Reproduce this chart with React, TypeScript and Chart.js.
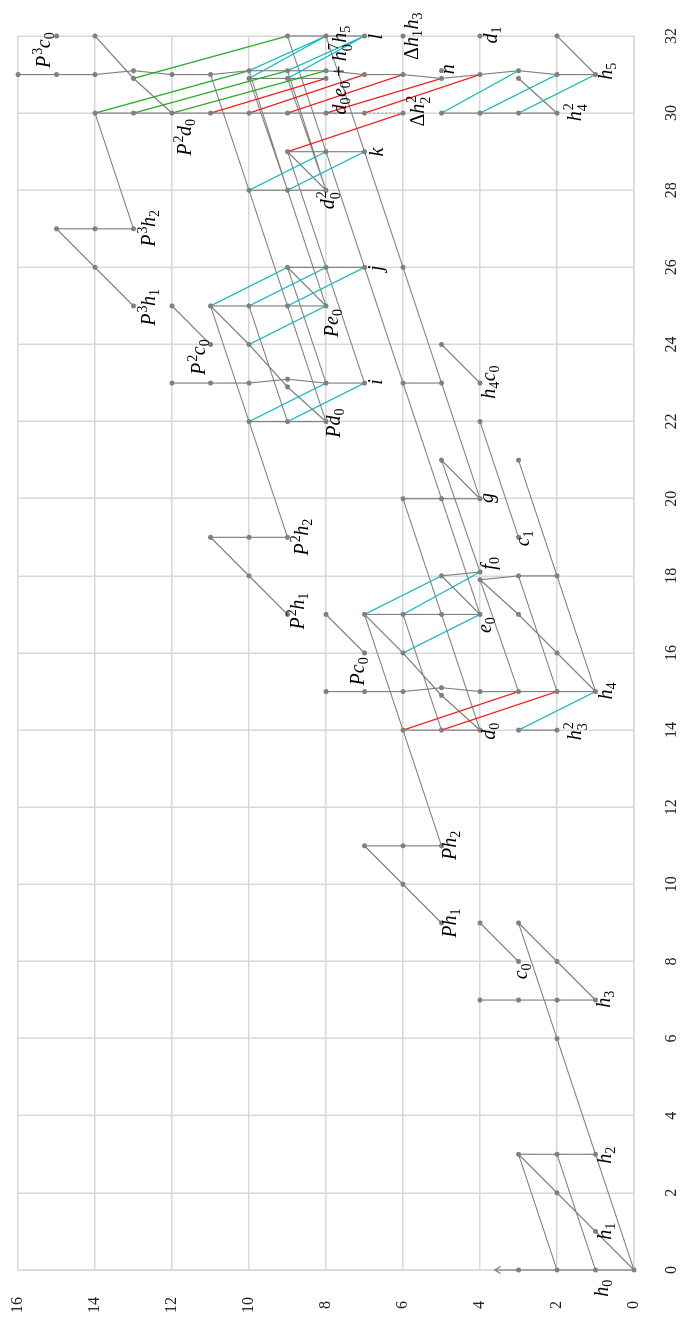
import React, { useEffect, useRef } from "react";
import { Chart, registerables } from "chart.js";

Chart.register(...registerables);

// ---- axis ranges ----
const STEM_RANGE = [0, 32];
const FILT_RANGE = [0, 16];
const TICK_STEP = 2;

// ---- classes: "stem,filtration" with optional +/- for side-by-side classes ----
const CLASSES: string[] = [
  "0,0", "0,1", "0,2", "0,3", "1,1", "2,2", "3,1", "3,2", "3,3", "6,2",
  "7,1", "7,2", "7,3", "7,4", "8,2", "8,3", "9,3", "9,4", "9,5", "10,6", "11,5", "11,6", "11,7",
  "14,2", "14,3", "14,4", "14,5", "14,6",
  "15,1", "15,2", "15,3", "15,4", "15,5+", "15,5-", "15,6", "15,7", "15,8",
  "16,2", "16,6", "16,7",
  "17,3", "17,4", "17,5", "17,6", "17,7", "17,8", "17,9",
  "18,2", "18,3", "18,4+", "18,4-", "18,5", "18,10",
  "19,3", "19,9", "19,10", "19,11",
  "20,4", "20,5", "20,6", "21,3", "21,5",
  "22,4", "22,8", "22,9", "22,10",
  "23,4", "23,5", "23,6", "23,7", "23,8", "23,9+", "23,9-", "23,10", "23,11", "23,12",
  "24,5", "24,10", "24,11",
  "25,8", "25,9", "25,10", "25,11", "25,12", "25,13",
  "26,6", "26,7", "26,8", "26,9", "26,14",
  "27,13", "27,14", "27,15",
  "28,8", "28,9", "28,10",
  "29,7", "29,8", "29,9",
  "30,2", "30,3", "30,4", "30,5", "30,6", "30,7", "30,8", "30,9", "30,10", "30,11", "30,12", "30,13", "30,14",
  "31,1", "31,2", "31,3+", "31,3-", "31,4", "31,5+", "31,5-", "31,6", "31,7", "31,8+", "31,8-",
  "31,9+", "31,9-", "31,10+", "31,10-", "31,11", "31,12", "31,13+", "31,13-", "31,14", "31,15", "31,16",
  "32,2", "32,4", "32,6", "32,7", "32,8", "32,9", "32,14", "32,15",
];

// ---- h0 multiplications ----
const H0_CHAINS: string[][] = [
  ["0,0", "0,1", "0,2", "0,3"],
  ["3,1", "3,2", "3,3"],
  ["7,1", "7,2", "7,3", "7,4"],
  ["11,5", "11,6", "11,7"],
  ["14,2", "14,3"],
  ["14,4", "14,5", "14,6"],
  ["15,1", "15,2", "15,3", "15,4", "15,5+", "15,6", "15,7", "15,8"],
  ["17,4", "17,5", "17,6", "17,7"],
  ["18,2", "18,3", "18,4-"],
  ["18,4+", "18,5"],
  ["19,9", "19,10", "19,11"],
  ["20,4", "20,5", "20,6"],
  ["22,8", "22,9", "22,10"],
  ["23,5", "23,6"],
  ["23,7", "23,8", "23,9+", "23,10", "23,11", "23,12"],
  ["25,8", "25,9", "25,10", "25,11"],
  ["26,7", "26,8", "26,9"],
  ["27,13", "27,14", "27,15"],
  ["28,8", "28,9", "28,10"],
  ["29,7", "29,8", "29,9"],
  ["30,2", "30,3", "30,4", "30,5"],
  ["30,7", "30,8", "30,9", "30,10", "30,11", "30,12", "30,13", "30,14"],
  ["31,1", "31,2", "31,3+", "31,4", "31,5-", "31,6", "31,7", "31,8+", "31,9+", "31,10+",
    "31,11", "31,12", "31,13+", "31,14", "31,15", "31,16"],
  ["31,8-", "31,9-", "31,10-"],
  ["32,7", "32,8", "32,9"],
];

// ---- h1 multiplications ----
const H1_CHAINS: string[][] = [
  ["0,0", "1,1", "2,2", "3,3"],
  ["7,1", "8,2", "9,3"],
  ["8,3", "9,4"],
  ["9,5", "10,6", "11,7"],
  ["14,4", "15,5-", "16,6", "17,7"],
  ["15,1", "16,2", "17,3", "18,4-"],
  ["16,7", "17,8"],
  ["17,4", "18,5"],
  ["17,9", "18,10", "19,11"],
  ["20,4", "21,5"],
  ["22,8", "23,9-", "24,10", "25,11"],
  ["23,4", "24,5"],
  ["24,11", "25,12"],
  ["25,8", "26,9"],
  ["25,13", "26,14", "27,15"],
  ["28,8", "29,9"],
  ["30,2", "31,3-"],
  ["30,12", "31,13-", "32,14"],
  ["31,1", "32,2"],
];

// ---- h2 multiplications ----
const H2_CHAINS: string[][] = [
  ["0,0", "3,1", "6,2", "9,3"],
  ["0,1", "3,2"],
  ["0,2", "3,3"],
  ["11,5", "14,6", "17,7"],
  ["14,4", "17,5", "20,6"],
  ["14,5", "17,6"],
  ["15,1", "18,2", "21,3"],
  ["15,2", "18,3"],
  ["15,3", "18,4-"],
  ["19,3", "22,4"],
  ["17,4", "20,5", "23,6", "26,7", "29,8", "32,9"],
  ["18,4+", "21,5"],
  ["20,4", "23,5", "26,6", "29,7", "32,8"],
  ["23,7", "26,8", "29,9"],
  ["23,8", "26,9"],
  ["19,9", "22,10", "25,11"],
  ["22,8", "25,9", "28,10", "31,11"],
  ["22,9", "25,10"],
  ["25,8", "28,9", "31,10+"],
  ["28,9", "31,10-"],
  ["28,8", "31,9+"],
  ["28,8", "31,9-"],
  ["27,13", "30,14"],
];

// ---- differentials ----
const D2: string[][] = [
  ["15,1", "14,3"], ["17,4", "16,6"], ["18,4+", "17,6"], ["18,5", "17,7"],
  ["23,7", "22,9"], ["23,8", "22,10"],
  ["25,8", "24,10"], ["26,7", "25,9"], ["26,8", "25,10"], ["26,9", "25,11"],
  ["29,7", "28,9"], ["29,8", "28,10"],
  ["31,1", "30,3"], ["31,2", "30,4"], ["31,3+", "30,5"],
  ["32,7", "31,9+"], ["32,7", "31,9-"], ["32,8", "31,10+"], ["32,8", "31,10-"],
];
const D3: string[][] = [
  ["15,2", "14,5"], ["15,3", "14,6"], ["30,6", "29,9"],
  ["31,4", "30,7"], ["31,5-", "30,8"], ["31,6", "30,9"], ["31,7", "30,10"], ["31,8-", "30,11"],
];
const D4: string[][] = [
  ["31,8+", "30,12"], ["31,9+", "30,13"], ["31,10+", "30,14"], ["32,9", "31,13-"],
];
const DOTTED: string[][] = [["30,6", "30,7"]];

// ---- infinite tower arrow: start class and filtration of the arrow tip ----
const TOWER_ARROW_FROM = "0,3";
const TOWER_ARROW_TIP = 3.62;

// ---- class names: [tex, stem, filtration] of label centre ----
const LABELS: [string, number, number][] = [
  ["h_0", -0.47, 0.81], ["h_1", 1.01, 0.73], ["h_2", 2.98, 0.73], ["h_3", 7.03, 0.75], ["c_0", 7.75, 2.86],
  ["Ph_1", 9.0, 4.75], ["Ph_2", 11.02, 4.75], ["h_3^2", 13.98, 1.53], ["d_0", 13.98, 3.74], ["h_4", 15.02, 0.7],
  ["e_0", 16.73, 3.79], ["f_0", 18.33, 3.74], ["Pc_0", 15.53, 7.14], ["P^2h_1", 17.09, 8.75], ["P^2h_2", 19.01, 8.65],
  ["c_1", 18.98, 2.81], ["g", 20.02, 3.74], ["Pd_0", 21.97, 7.77], ["h_4c_0", 23.03, 3.74], ["i", 23.03, 6.73],
  ["P^2c_0", 23.68, 11.32], ["Pe_0", 24.56, 7.82], ["j", 25.98, 6.65], ["P^3h_1", 24.97, 12.62], ["P^3h_2", 27.02, 12.62],
  ["d_0^2", 27.75, 7.95], ["k", 28.99, 6.7], ["P^2d_0", 29.38, 11.69], ["P^3c_0", 31.64, 15.35], ["l", 31.98, 6.73],
  ["\\Delta h_1h_3", 32.0, 5.74], ["d_1", 32.03, 3.69], ["n", 31.14, 4.81], ["h_5", 31.09, 0.7], ["h_4^2", 30.03, 1.53],
  ["\\Delta h_2^2", 30.06, 5.61], ["d_0e_0+h_0^7h_5", 31.12, 7.64],
];

// ---- style ----
const W = 1321;
const H = 683;
const SHIFT = 0.1;
const GRAY = "#808080";
const CYAN = "#14b8c4";
const RED = "#f51c1c";
const GREEN = "#26ad26";
const GRID = "#d8d8d8";
const SERIF = '"Liberation Serif", "DejaVu Serif", serif';
const LABEL_SIZE = 20;
const SCRIPT_SIZE = 14;

type P = { x: number; y: number };
const pt = (k: string): P => {
  const m = /^(\d+),(\d+)([+-]?)$/.exec(k)!;
  const s = m[3] === "+" ? SHIFT : m[3] === "-" ? -SHIFT : 0;
  return { x: +m[1] + s, y: +m[2] };
};
const GAP: P = { x: NaN, y: NaN };
function chainsToData(chains: string[][]): P[] {
  const out: P[] = [];
  for (const c of chains) {
    for (const k of c) out.push(pt(k));
    out.push(GAP);
  }
  return out;
}

type Tok = { text: string; kind: "it" | "rm" | "op" | "sub" | "sup" };
function parseTex(s: string): Tok[] {
  const out: Tok[] = [];
  let i = 0;
  while (i < s.length) {
    const c = s[i];
    if (s.startsWith("\\Delta", i)) { out.push({ text: "\u0394", kind: "rm" }); i += 6; continue; }
    if (c === " ") { i++; continue; }
    if (c === "_" || c === "^") { out.push({ text: s[i + 1], kind: c === "_" ? "sub" : "sup" }); i += 2; continue; }
    if (c === "+") { out.push({ text: "+", kind: "op" }); i++; continue; }
    if (/[0-9]/.test(c)) { out.push({ text: c, kind: "rm" }); i++; continue; }
    out.push({ text: c, kind: "it" });
    i++;
  }
  return out;
}
function fontFor(kind: Tok["kind"]): string {
  if (kind === "it") return `italic ${LABEL_SIZE}px ${SERIF}`;
  if (kind === "rm" || kind === "op") return `${LABEL_SIZE}px ${SERIF}`;
  return `${SCRIPT_SIZE}px ${SERIF}`;
}
function drawTex(ctx: CanvasRenderingContext2D, tex: string, cx: number, cy: number) {
  const toks = parseTex(tex);
  const placed: { text: string; font: string; x: number; dy: number; asc: number; desc: number }[] = [];
  let x = 0;
  const place = (t: Tok, px: number, dy: number) => {
    ctx.font = fontFor(t.kind);
    const m = ctx.measureText(t.text);
    placed.push({ text: t.text, font: ctx.font, x: px, dy, asc: m.actualBoundingBoxAscent, desc: m.actualBoundingBoxDescent });
    return m.width;
  };
  for (let i = 0; i < toks.length; i++) {
    const t = toks[i];
    if (t.kind === "sub" || t.kind === "sup") {
      const nxt = toks[i + 1];
      const stacked = !!nxt && (nxt.kind === "sub" || nxt.kind === "sup") && nxt.kind !== t.kind;
      const dyOf = (k: string) => (k === "sub" ? (stacked ? 0.3 : 0.22) * LABEL_SIZE : -0.4 * LABEL_SIZE);
      let w = place(t, x + (t.kind === "sup" ? 1 : 0), dyOf(t.kind));
      if (stacked) {
        const w2 = place(nxt, x + (nxt.kind === "sup" ? 1 : 0), dyOf(nxt.kind));
        w = Math.max(w, w2) + 1;
        i++;
      }
      x += w + 0.5;
      continue;
    }
    if (t.kind === "op") {
      x += 0.2 * LABEL_SIZE;
      const w = place(t, x, 0);
      x += w + 0.2 * LABEL_SIZE;
      continue;
    }
    x += place(t, x, 0);
  }
  let top = Infinity;
  let bot = -Infinity;
  for (const p of placed) {
    top = Math.min(top, p.dy - p.asc);
    bot = Math.max(bot, p.dy + p.desc);
  }
  const x0 = cx - x / 2;
  const base = cy - (top + bot) / 2;
  for (const p of placed) {
    ctx.font = p.font;
    ctx.fillText(p.text, x0 + p.x, base + p.dy);
  }
}

const labelPlugin = {
  id: "classLabels",
  afterDatasetsDraw(chart: any) {
    const { ctx, scales } = chart;
    ctx.save();
    ctx.fillStyle = "#000";
    ctx.textAlign = "left";
    ctx.textBaseline = "alphabetic";
    for (const [tex, s, f] of LABELS) {
      drawTex(ctx, tex, scales.x.getPixelForValue(s), scales.y.getPixelForValue(f));
    }
    ctx.restore();
  },
};

const arrowPlugin = {
  id: "towerArrow",
  afterDatasetsDraw(chart: any) {
    const idx = chart.data.datasets.findIndex((d: any) => d.label === "tower");
    if (idx < 0) return;
    const pts = chart.getDatasetMeta(idx).data;
    if (pts.length < 2) return;
    const a = pts[0];
    const b = pts[1];
    const dx = b.x - a.x;
    const dy = b.y - a.y;
    const len = Math.hypot(dx, dy) || 1;
    const ux = dx / len;
    const uy = dy / len;
    const back = 6;
    const half = 3.5;
    const ctx = chart.ctx;
    ctx.save();
    ctx.strokeStyle = GRAY;
    ctx.lineWidth = 1.1;
    ctx.beginPath();
    ctx.moveTo(b.x - ux * back - uy * half, b.y - uy * back + ux * half);
    ctx.lineTo(b.x, b.y);
    ctx.lineTo(b.x - ux * back + uy * half, b.y - uy * back - ux * half);
    ctx.stroke();
    ctx.restore();
  },
};

function lineSet(label: string, data: P[], color: string, width: number, dash: number[] = []) {
  return {
    label,
    data,
    showLine: true,
    spanGaps: false,
    borderColor: color,
    borderWidth: width,
    borderDash: dash,
    pointRadius: 0,
    pointHoverRadius: 0,
    clip: false as any,
  };
}

export default function App() {
  const ref = useRef<HTMLCanvasElement>(null);
  useEffect(() => {
    const start = pt(TOWER_ARROW_FROM);
    const datasets: any[] = [
      {
        label: "classes",
        data: CLASSES.map(pt),
        showLine: false,
        pointRadius: 2.5,
        pointHoverRadius: 2.5,
        pointBackgroundColor: GRAY,
        pointBorderWidth: 0,
        clip: false,
      },
      lineSet("d2", chainsToData(D2), CYAN, 1.25),
      lineSet("d3", chainsToData(D3), RED, 1.25),
      lineSet("d4", chainsToData(D4), GREEN, 1.25),
      lineSet("products", chainsToData([...H0_CHAINS, ...H1_CHAINS, ...H2_CHAINS]), GRAY, 1.15),
      lineSet("hidden", chainsToData(DOTTED), "#9a9a9a", 1.2, [1.5, 2.5]),
      lineSet("tower", [start, { x: start.x, y: TOWER_ARROW_TIP }], GRAY, 1.15),
    ];
    const axisCommon = {
      type: "linear" as const,
      grid: { color: GRID, lineWidth: 1.5, drawTicks: false },
      border: { color: GRID, width: 1.5 },
    };
    const chart = new Chart(ref.current!, {
      type: "scatter",
      data: { datasets },
      options: {
        responsive: false,
        maintainAspectRatio: false,
        animation: false,
        devicePixelRatio: 1,
        events: [],
        layout: { padding: { top: 18, right: 36, left: 0, bottom: 0 } },
        plugins: { legend: { display: false }, tooltip: { enabled: false } },
        scales: {
          x: {
            ...axisCommon,
            min: STEM_RANGE[0],
            max: STEM_RANGE[1],
            ticks: {
              stepSize: TICK_STEP,
              autoSkip: false,
              maxRotation: 0,
              minRotation: 0,
              padding: 28,
              color: "#222",
              font: { family: SERIF, size: 16 },
            },
            afterFit: (s: any) => {
              s.height = 49;
              s.paddingLeft = 0;
              s.paddingRight = 0;
            },
          },
          y: {
            ...axisCommon,
            min: FILT_RANGE[0],
            max: FILT_RANGE[1],
            ticks: {
              stepSize: TICK_STEP,
              padding: 27,
              crossAlign: "center",
              color: "#222",
              font: { family: SERIF, size: 16 },
            },
            afterFit: (s: any) => {
              s.width = 51;
              s.paddingTop = 0;
              s.paddingBottom = 0;
            },
          },
        },
      } as any,
      plugins: [arrowPlugin, labelPlugin],
    });
    return () => chart.destroy();
  }, []);
  return (
    <div
      style={{
        position: "absolute",
        left: 0,
        top: 0,
        width: W,
        height: H,
        background: "#fff",
        transformOrigin: "0 0",
        transform: `translate(0px, ${W}px) rotate(-90deg)`,
      }}
    >
      <canvas ref={ref} width={W} height={H} style={{ display: "block", width: W, height: H }} />
    </div>
  );
}
